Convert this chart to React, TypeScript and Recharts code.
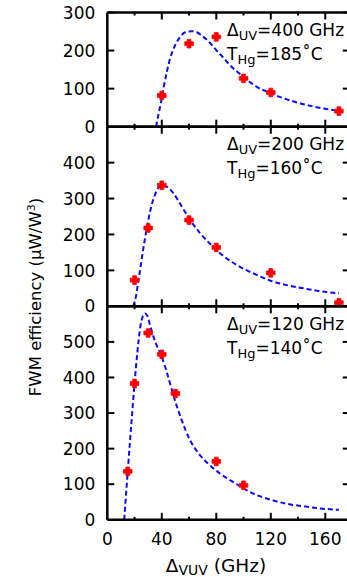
import { ComposedChart, Line, Scatter, XAxis, YAxis } from 'recharts';

const xTicks = [0, 20, 40, 60, 80, 100, 120, 140, 160];

// Δ_UV = 400 GHz, T_Hg = 185˚C
const ptX400 = [40, 60, 80, 100, 120, 170];
const ptY400 = [82, 218, 236, 127, 90, 41];
const fitX400 = [35.8, 37.5, 39.5, 41.2, 43.7, 46.1, 49.8, 53.5, 57.1, 62, 65.7, 70.6, 75.5, 80, 85, 90, 100, 110, 120, 130, 140, 150, 160, 172];
const fitY400 = [0, 31, 66, 100, 144, 179, 214, 236, 248, 251, 248, 236, 220, 201, 182, 162, 131, 104, 88, 74, 63, 54, 47, 40];
const yTicks400 = [0, 100, 200, 300];

// Δ_UV = 200 GHz, T_Hg = 160˚C
const ptX200 = [20, 30, 40, 60, 80, 120, 170];
const ptY200 = [73, 218, 337, 240, 164, 93, 10];
const fitX200 = [19, 21, 22.8, 24.5, 26.4, 28.9, 31.3, 33.8, 36.3, 40, 43.6, 48.5, 54.6, 60.7, 68, 75.4, 82.7, 95, 107, 119.4, 131.7, 143.9, 156, 170];
const fitY200 = [0, 27, 70, 112, 160, 215, 262, 298, 322, 338, 333, 315, 278, 241, 204, 174, 148, 115, 92, 72, 59, 50, 42, 36];
const yTicks200 = [0, 100, 200, 300, 400];

// Δ_UV = 120 GHz, T_Hg = 140˚C
const ptX120 = [15, 20, 30, 40, 50, 80, 100];
const ptY120 = [136, 383, 525, 465, 355, 164, 97];
const fitX120 = [12.4, 15, 17.5, 20, 22, 24, 26, 27.7, 29.5, 31.3, 35, 40, 43.6, 48.5, 54.6, 60.7, 68, 74, 82.7, 92.5, 100, 107, 119.4, 131.7, 143.9, 156, 170];
const fitY120 = [0, 136, 262, 383, 468, 536, 572, 580, 572, 548, 502, 458, 416, 350, 280, 224, 182, 158, 130, 106, 88, 74, 57, 45, 38, 32, 28];
const yTicks120 = [0, 100, 200, 300, 400, 500];

const INK = '#000';
const FONT = '"DejaVu Sans", sans-serif';
const CHART_W = 352;
const CHART_H = 577;
const PLOT_LEFT = 107.3;
const PLOT_RIGHT = 349.8;
const AX = 1; // axis band size (recharts skips axes of size 0)

const zip = (xs: number[], ys: number[]) => xs.map((x, i) => ({ x, y: ys[i] }));

const plusShape = (p: any) => {
  const { cx, cy } = p;
  return (
    <path
      d={`M${cx - 1.9},${cy - 4.3}h3.8v2.4h2.4v3.8h-2.4v2.4h-3.8v-2.4h-2.4v-3.8h2.4z`}
      fill="#ff0000"
      stroke="#ff0000"
      strokeWidth={0.8}
      strokeLinejoin="round"
    />
  );
};

const bottomTick = (showLabel: boolean) => (p: any) => {
  const v = p.payload.value;
  const len = v % 40 === 0 ? 7 : 3;
  return (
    <g>
      {v !== 0 && <line x1={p.x} x2={p.x} y1={p.y} y2={p.y - len} stroke={INK} strokeWidth={2} />}
      {showLabel && v % 40 === 0 && (
        <text x={p.x} y={p.y + 25} textAnchor="middle" fontSize={17} fontFamily={FONT} fill={INK}>
          {v}
        </text>
      )}
    </g>
  );
};

const topTick = (p: any) => {
  const v = p.payload.value;
  const len = v % 40 === 0 ? 7 : 3;
  if (v === 0) return <g />;
  return <line x1={p.x} x2={p.x} y1={p.y} y2={p.y + len} stroke={INK} strokeWidth={2} />;
};

const leftTick = (p: any) => {
  const v = p.payload.value;
  return (
    <g>
      {v !== 0 && <line x1={p.x} x2={p.x + 7} y1={p.y} y2={p.y} stroke={INK} strokeWidth={2} />}
      <text x={p.x - 12} y={p.y} dy="0.36em" textAnchor="end" fontSize={17} fontFamily={FONT} fill={INK}>
        {v}
      </text>
    </g>
  );
};

const rightTick = (p: any) => {
  const v = p.payload.value;
  if (v === 0) return <g />;
  return <line x1={p.x} x2={p.x - 7} y1={p.y} y2={p.y} stroke={INK} strokeWidth={2} />;
};

interface PanelProps {
  fitX: number[];
  fitY: number[];
  ptX: number[];
  ptY: number[];
  yMax: number;
  yTicks: number[];
  top: number;
  bottom: number;
  uv: string;
  temp: string;
  xLabels?: boolean;
  children?: any;
}

function Panel({ fitX, fitY, ptX, ptY, yMax, yTicks, top, bottom, uv, temp, xLabels = false, children }: PanelProps) {
  return (
    <div style={{ position: 'absolute', left: 0, top: 0 }}>
      <ComposedChart
        width={CHART_W}
        height={CHART_H}
        margin={{
          top: top - AX,
          bottom: CHART_H - bottom - AX,
          left: PLOT_LEFT - AX,
          right: CHART_W - PLOT_RIGHT - AX,
        }}
      >
        <XAxis
          xAxisId="x"
          dataKey="x"
          type="number"
          domain={[0, 178]}
          allowDataOverflow
          ticks={xTicks}
          interval={0}
          height={AX}
          tickSize={0}
          tickMargin={0}
          axisLine={{ stroke: INK, strokeWidth: 2.5 }}
          tick={bottomTick(xLabels)}
        />
        <XAxis
          xAxisId="xt"
          orientation="top"
          dataKey="x"
          type="number"
          domain={[0, 178]}
          allowDataOverflow
          ticks={xTicks}
          interval={0}
          height={AX}
          tickSize={0}
          tickMargin={0}
          axisLine={{ stroke: INK, strokeWidth: 2.5 }}
          tick={topTick}
        />
        <YAxis
          yAxisId="y"
          dataKey="y"
          type="number"
          domain={[0, yMax]}
          allowDataOverflow
          ticks={yTicks}
          interval={0}
          width={AX}
          tickSize={0}
          tickMargin={0}
          axisLine={{ stroke: INK, strokeWidth: 2.5 }}
          tick={leftTick}
        />
        <YAxis
          yAxisId="yr"
          orientation="right"
          dataKey="y"
          type="number"
          domain={[0, yMax]}
          allowDataOverflow
          ticks={yTicks}
          interval={0}
          width={AX}
          tickSize={0}
          tickMargin={0}
          axisLine={{ stroke: INK, strokeWidth: 2.5 }}
          tick={rightTick}
        />
        <Line
          xAxisId="x"
          yAxisId="y"
          data={zip(fitX, fitY)}
          dataKey="y"
          type="monotone"
          stroke="#0a0aff"
          strokeWidth={2}
          strokeDasharray="5 3"
          dot={false}
          activeDot={false}
          isAnimationActive={false}
        />
        <Scatter
          xAxisId="x"
          yAxisId="y"
          data={zip(ptX, ptY)}
          dataKey="y"
          shape={plusShape}
          isAnimationActive={false}
        />
        <text x={227} y={top + 23.5} fontSize={17} fontFamily={FONT} fill={INK}>
          Δ<tspan fontSize={13} dy={4}>UV</tspan>
          <tspan dy={-4}>={uv} GHz</tspan>
        </text>
        <text x={227} y={top + 47.5} fontSize={17} fontFamily={FONT} fill={INK}>
          T<tspan fontSize={13} dy={4}>Hg</tspan>
          <tspan dy={-4}>={temp}˚C</tspan>
        </text>
        {children}
      </ComposedChart>
    </div>
  );
}

export default function App() {
  return (
    <div
      style={{
        position: 'absolute',
        left: 0,
        top: 0,
        width: 347,
        height: 577,
        overflow: 'hidden',
        background: '#fff',
        fontFamily: FONT,
      }}
    >
      <Panel fitX={fitX400} fitY={fitY400} ptX={ptX400} ptY={ptY400} yMax={300} yTicks={yTicks400} top={12.5} bottom={126.7} uv="400" temp="185" />
      <Panel fitX={fitX200} fitY={fitY200} ptX={ptX200} ptY={ptY200} yMax={500} yTicks={yTicks200} top={126.7} bottom={306.3} uv="200" temp="160">
        <text transform="rotate(-90, 41, 297)" x={41} y={297} textAnchor="middle" fontSize={16.5} fontFamily={FONT} fill={INK}>
          FWM efficiency (μW/W<tspan fontSize={11} dy={-6}>3</tspan>
          <tspan dy={6}>)</tspan>
        </text>
      </Panel>
      <Panel fitX={fitX120} fitY={fitY120} ptX={ptX120} ptY={ptY120} yMax={600} yTicks={yTicks120} top={306.3} bottom={519.8} uv="120" temp="140" xLabels>
        <text x={216} y={572} textAnchor="middle" fontSize={18.5} fontFamily={FONT} fill={INK}>
          Δ<tspan fontSize={14} dy={3}>VUV</tspan>
          <tspan dy={-3}> (GHz)</tspan>
        </text>
      </Panel>
    </div>
  );
}
